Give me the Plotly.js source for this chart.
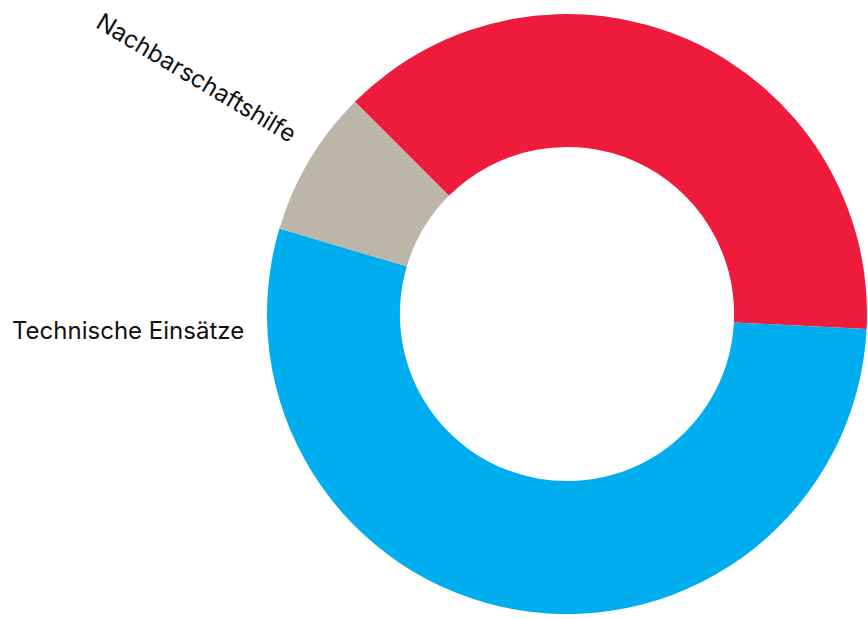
<!DOCTYPE html>
<html>
<head>
<meta charset="utf-8">
<script src="https://cdn.plot.ly/plotly-3.0.1.min.js"></script>
<style>html,body{margin:0;padding:0;background:#fff;}#chart{width:868px;height:619px;}</style>
</head>
<body>
<div id="chart"></div>
<script>
// Data
const categories = ["Einsätze (rot)", "Technische Einsätze", "Nachbarschaftshilfe"];
const values = [38.3, 53.8, 7.9];
const colors = ["#EE1B3D", "#00ADEE", "#BCB6A8"];
const shownLabels = ["", "Technische Einsätze", "Nachbarschaftshilfe"];

const W = 868, H = 619;
const cx = 567, cy = 314, R = 300;
const rotation = -45;

const total = values.reduce((a, b) => a + b, 0);
function midAngle(i) {
  let start = rotation;
  for (let k = 0; k < i; k++) start += values[k] / total * 360;
  return start + values[i] / total * 180;
}

const labelFont = {family: "Inter, Roboto, Arial, sans-serif", size: 24, color: "#111"};
const annotations = [];
{
  const md = midAngle(2);
  const a = (md + 1.8) * Math.PI / 180;
  const r = 440;
  const px = cx + r * Math.sin(a);
  const py = cy - r * Math.cos(a);
  annotations.push({
    text: shownLabels[2], x: px / W, y: 1 - py / H, xref: "paper", yref: "paper",
    showarrow: false, textangle: md - 270,
    font: labelFont, xanchor: "center", yanchor: "middle"
  });
}
annotations.push({
  text: shownLabels[1], x: 246 / W, y: 1 - 330 / H, xref: "paper", yref: "paper",
  showarrow: false, xanchor: "right", yanchor: "middle", font: labelFont
});

const trace = {
  type: "pie",
  labels: categories,
  values: values,
  hole: 0.557,
  sort: false,
  direction: "clockwise",
  rotation: rotation,
  marker: {colors: colors, line: {width: 0}},
  textinfo: "none",
  hoverinfo: "label+value",
  showlegend: false,
  domain: {x: [(cx - R) / W, (cx + R) / W], y: [1 - (cy + R) / H, 1 - (cy - R) / H]}
};

Plotly.newPlot("chart", [trace], {
  width: W, height: H,
  margin: {l: 0, r: 0, t: 0, b: 0},
  paper_bgcolor: "#fff",
  showlegend: false,
  annotations: annotations
}, {displayModeBar: false, staticPlot: true});
</script>
</body>
</html>
